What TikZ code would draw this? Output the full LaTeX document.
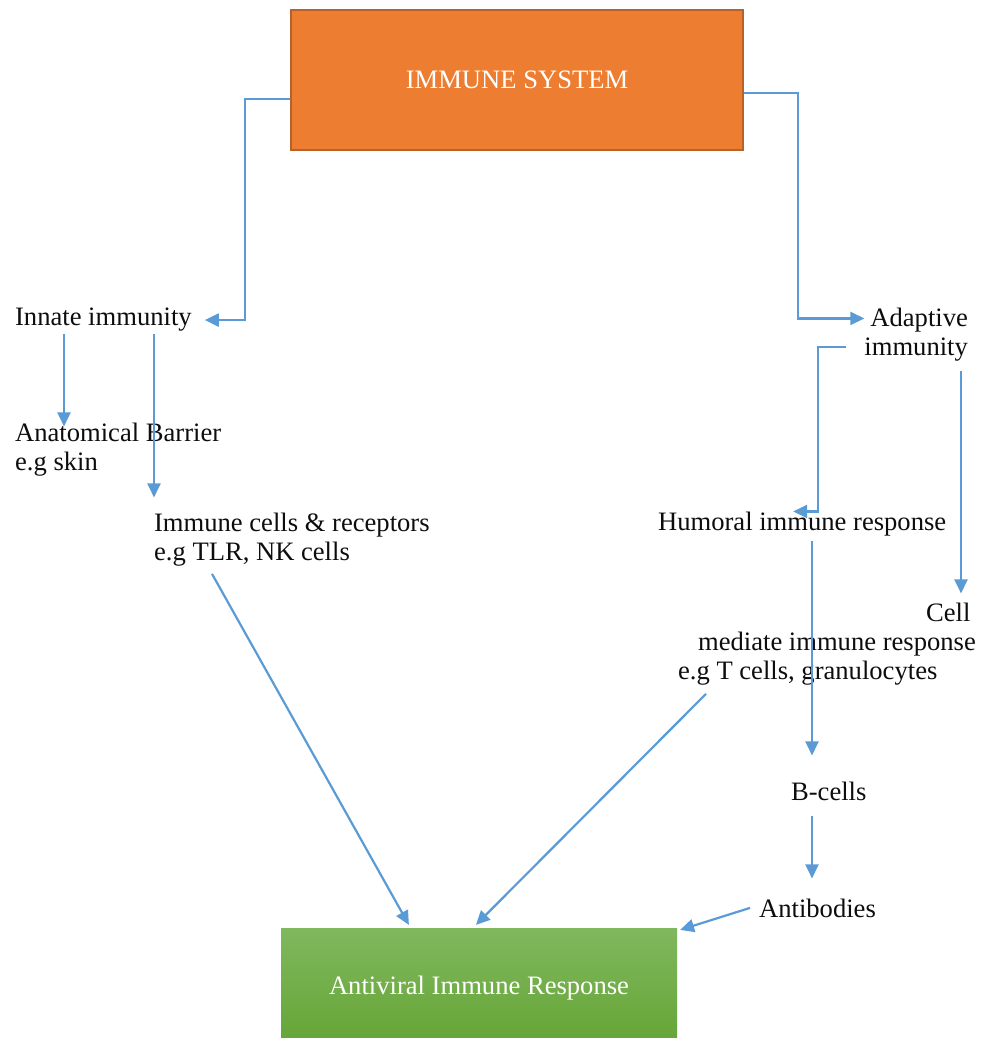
\documentclass[tikz,border=0pt]{standalone}
\usepackage{fontspec}
\setmainfont{Liberation Serif}
\usepackage{tikz}
\usetikzlibrary{arrows.meta,calc}
\definecolor{linkblue}{HTML}{5B9BD5}
\definecolor{sysorange}{HTML}{ED7D31}
\definecolor{sysedge}{HTML}{B8612A}
\definecolor{avrtop}{HTML}{80B85E}
\definecolor{avrbot}{HTML}{64A434}

\begin{document}
\begin{tikzpicture}[->,>={Triangle[length=7pt,width=6.5pt]},x=0.5pt,y=-0.5pt,
                    line width=1.1pt,draw=linkblue]

  \tikzstyle{txt}=[inner sep=0,font=\fontsize{13.3}{14.5}\selectfont,text=black!95]
  \tikzstyle{bigbox}=[rectangle,inner sep=0,font=\fontsize{13.3}{14.5}\selectfont,text=white]

  \useasboundingbox (0,0) rectangle (981,1038);

  \node[bigbox,fill=sysorange,draw=sysedge,line width=0.8pt,
        minimum width=226pt,minimum height=70pt] (sys) at (517,80) {\raisebox{-1.5pt}{IMMUNE SYSTEM}};
  \node[bigbox,top color=avrtop,bottom color=avrbot,draw=none,
        minimum width=198pt,minimum height=60pt] (avr) at (479,988) {Antiviral Immune Response};

  \node[txt,anchor=base west] (innate)  at (14,325)  {Innate immunity};
  \node[txt,anchor=base west,align=left] (barrier) at (14,470) {Anatomical Barrier\\e.g skin};
  \node[txt,anchor=base west,align=left] (cells)   at (153,560) {Immune cells \& receptors\\e.g TLR, NK cells};
  \node[txt,anchor=base east,align=right] (adapt) at (969,355) {Adaptive\\immunity};
  \node[txt,anchor=base west] (humoral) at (657,530) {Humoral immune response};
  \node[txt,anchor=base west,align=left] (cellmed) at (677,679)
       {\hspace*{124pt}Cell\\\hspace*{10pt}mediate immune response\\e.g T cells, granulocytes};
  \node[txt,anchor=base west] (bcells) at (790,800) {B-cells};
  \node[txt,anchor=base west] (antib)  at (758,917) {Antibodies};

  \draw ($(sys.west)+(0,19)$) -- ++(-45,0) |- ($(innate.east)+(12,1)$);
  \draw ($(sys.east)+(0,13)$) -- ++(54,0) |- ($(adapt.north west)+(1,12)$);

  \draw ($(innate.south west)+(50,2)$) -- ($(barrier.north west)+(50,5)$);
  \draw ($(innate.south west)+(140,2)$) -- ($(cells.north west)+(1,-14)$);

  \draw ($(adapt.west)+(-17,13)$) -- ++(-28,0) |- ($(humoral.north)+(-9,1)$);
  \draw[shorten >=4pt] ($(adapt.south east)+(-8,9)$) coordinate (cm) -- (cm |- cellmed.north);

  \draw ($(humoral.south west)+(155,4)$) -- ($(bcells.north west)+(22,-25)$);
  \draw ($(bcells.south west)+(22,15)$) -- ($(antib.north west)+(54,-19)$);

  \draw ($(cells.south west)+(59,7)$) -- ($(avr.north west)+(129,-2)$);
  \draw ($(cellmed.south west)+(29,8)$) -- ($(avr.north west)+(196,-2)$);
  \draw ($(antib.west)+(-8,0)$) -- ($(avr.north east)+(2,3)$);
\end{tikzpicture}
\end{document}
